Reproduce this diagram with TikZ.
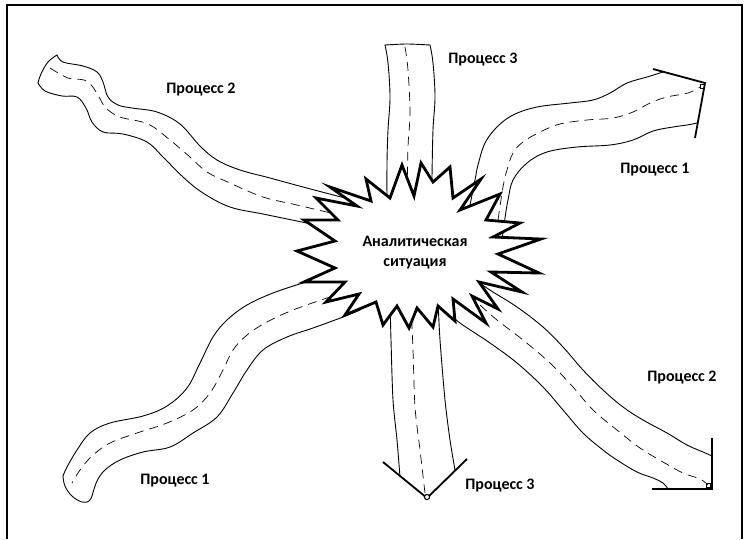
\documentclass[tikz,border=0pt]{standalone}
\usepackage{fontspec}
\setmainfont{Carlito}
\begin{document}
\begin{tikzpicture}[x=1pt,y=-1pt,
  edge/.style={line width=0.9pt, line join=round, line cap=round},
  mid/.style={line width=0.7pt, dash pattern=on 9pt off 6pt},
  capline/.style={line width=1.8pt},
  burst/.style={line width=2.8pt, fill=white, line join=miter, miter limit=20},
  lbl/.style={font=\fontsize{16}{20}\selectfont\bfseries, inner sep=0pt}]
\useasboundingbox (0,0) rectangle (751,539);
% frame
\draw[line width=1.8pt] (7,539) -- (7,5) -- (742,5) -- (742,539);

% ---- band A: upper left (Process 2)
\draw[edge] plot[smooth, tension=0.6] coordinates {(57,55) (63,62) (83,66) (97,72) (103,82) (108,97) (118,105) (132,108) (157,112) (180,124) (200,146) (217,160) (240,170) (270,178) (303,187) (345,198)};
\draw[edge] plot[smooth, tension=0.6] coordinates {(38,83) (45,91) (62,96) (77,97) (86,108) (92,122) (103,132) (123,134) (147,142) (163,157) (183,177) (203,193) (230,207) (263,214) (297,221) (330,228)};
\draw[edge] plot[smooth, tension=0.7] coordinates {(57,55) (48,62) (41,74) (38,83)};
\draw[mid] plot[smooth, tension=0.6] coordinates {(50,68) (68,78) (84,80) (92,86) (99,97) (106,108) (120,117) (148,124) (170,140) (190,157) (207,172) (230,183) (263,197) (297,205) (335,214)};

% ---- band B: top (Process 3)
\draw[edge] plot[smooth] coordinates {(385,45) (407,44) (430,45)};
\draw[edge] plot[smooth, tension=0.6] coordinates {(385,45) (388,63) (390,97) (388,130) (387,163) (387,205)};
\draw[edge] plot[smooth, tension=0.6] coordinates {(430,45) (433,63) (435,97) (433,130) (432,177) (432,205)};
\draw[mid] plot[smooth, tension=0.6] coordinates {(405,47) (408,70) (410,113) (408,147) (407,200)};

% ---- band C: upper right (Process 1)
\draw[edge] plot[smooth, tension=0.6] coordinates {(470,205) (475,180) (478,165) (485,143) (497,127) (513,115) (537,107) (570,103) (593,100) (610,93) (627,83) (647,77) (663,72)};
\draw[edge] plot[smooth, tension=0.6] coordinates {(502,240) (505,218) (508,200) (513,180) (527,163) (547,152) (577,147) (610,145) (633,140) (653,131) (673,127) (687,125) (697,123)};
\draw[mid] plot[smooth, tension=0.6] coordinates {(498,220) (503,187) (507,170) (513,153) (523,142) (540,132) (560,124) (587,120) (613,118) (633,112) (650,103) (667,97) (688,93) (700,87)};
\draw[capline] (653,69) -- (705,83) -- (695,138);
\draw[line width=0.9pt] (700.5,84.5) rectangle (704,88);

% ---- band D: lower left (Process 1)
\draw[edge] plot[smooth, tension=0.6] coordinates {(335,274) (303,283) (273,293) (247,305) (227,320) (213,337) (200,363) (187,388) (167,406) (143,416) (110,423) (90,433) (77,450) (67,467) (63,476)};
\draw[edge] plot[smooth, tension=0.7] coordinates {(63,476) (65,486) (72,496) (82,502) (89,501) (92,496)};
\draw[edge] plot[smooth, tension=0.6] coordinates {(92,496) (97,481) (105,470) (120,460) (143,452) (170,447) (193,433) (217,417) (233,393) (247,370) (263,350) (287,337) (313,328) (343,317) (360,310)};
\draw[mid] plot[smooth, tension=0.6] coordinates {(345,292) (327,298) (293,310) (267,322) (247,335) (233,350) (223,370) (210,393) (193,410) (167,423) (137,433) (110,443) (92,456) (80,470) (72,483)};

% ---- band E: bottom (Process 3)
\draw[edge] plot[smooth, tension=0.5] coordinates {(390,300) (391,340) (393,400) (397,440) (400,477)};
\draw[edge] plot[smooth, tension=0.5] coordinates {(438,300) (440,340) (445,400) (450,440) (455,470)};
\draw[mid] plot[smooth, tension=0.5] coordinates {(411,305) (413,350) (415,407) (420,450) (425,493)};
\draw[capline] (383,462) -- (427,498) -- (467,459);
\draw[line width=1.1pt, fill=white] (427,497) circle (2.6);

% ---- band F: lower right (Process 2)
\draw[edge] plot[smooth, tension=0.6] coordinates {(475,280) (493,292) (517,307) (543,327) (563,347) (583,370) (603,390) (623,407) (643,420) (667,433) (687,445) (703,452) (712,456)};
\draw[edge] plot[smooth, tension=0.6] coordinates {(445,310) (460,323) (490,343) (517,363) (543,387) (563,410) (583,433) (603,450) (617,460) (637,472) (653,478) (663,483) (668,489)};
\draw[mid] plot[smooth, tension=0.6] coordinates {(480,305) (497,320) (523,340) (550,363) (573,387) (593,410) (617,430) (640,448) (663,462) (683,473) (700,479) (708,485)};
\draw[capline] (712,438) -- (712,489) -- (652,489);
\draw[line width=1.4pt] (706.5,483.5) rectangle (710.5,487.5);

% ---- burst
\filldraw[burst] (421,163) -- (433,182) -- (450,167) -- (453,198) -- (481,179) -- (460,210) -- (500,194) -- (486,220) -- (520,223) -- (493,237) -- (541,239) -- (498,254) -- (539,273) -- (491,272) -- (522,292) -- (479,282) -- (498,309) -- (472,296) -- (486,323) -- (453,299) -- (455,321) -- (438,306) -- (433,327) -- (417,308) -- (409,328) -- (397,306) -- (383,325) -- (376,302) -- (345,315) -- (359,294) -- (326,302) -- (345,282) -- (304,282) -- (335,268) -- (297,251) -- (335,241) -- (304,220) -- (338,220) -- (316,198) -- (357,206) -- (330,187) -- (371,201) -- (366,179) -- (390,198) -- (402,165) -- (414,196) -- cycle;

% ---- labels
\node[lbl, align=center] (centre) at (415,253) {Аналитическая\\ситуация};
\node[lbl] (p2a) at (201,90) {Процесс 2};
\node[lbl] (p3a) at (483,60) {Процесс 3};
\node[lbl] (p1a) at (655,170) {Процесс 1};
\node[lbl] (p1b) at (175,481) {Процесс 1};
\node[lbl] (p3b) at (500,486) {Процесс 3};
\node[lbl] (p2b) at (682,378) {Процесс 2};
\end{tikzpicture}
\end{document}
